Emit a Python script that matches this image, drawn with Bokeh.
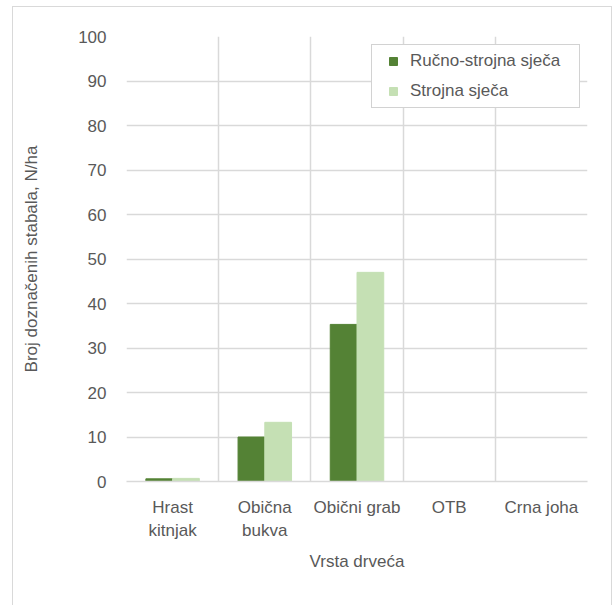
from bokeh.plotting import figure
from bokeh.models import (ColumnDataSource, Legend, LegendItem, FixedTicker, LinearAxis,
                          Range1d, InlineStyleSheet)
from bokeh.embed import file_html
from bokeh.resources import INLINE

categories = ["Hrast kitnjak", "Obična bukva", "Obični grab", "OTB", "Crna joha"]
tick_line1 = ["Hrast", "Obična", "Obični grab", "OTB", "Crna joha"]
tick_line2 = ["kitnjak", "bukva", "", "", ""]
rucno_strojna = [0.6, 10.0, 35.3, 0.0, 0.0]
strojna = [0.7, 13.3, 47.0, 0.0, 0.0]
series_names = ["Ručno-strojna sječa", "Strojna sječa"]
y_ticks = list(range(0, 101, 10))

FONT = "Liberation Sans"
FS = "17px"
TXT = "#595959"
GRID = "#d9d9d9"
C1 = "#548235"
C2 = "#C5E0B4"
BAR_W = 0.29

n = len(categories)
centers = [i + 0.5 for i in range(n)]
bounds = list(range(n + 1))

src = ColumnDataSource(dict(
    cat=categories,
    xa=[c - BAR_W / 2 for c in centers],
    xb=[c + BAR_W / 2 for c in centers],
    a=rucno_strojna, b=strojna))

p = figure(x_range=Range1d(0, n), y_range=Range1d(0, 100), width=600, height=600,
           output_backend="svg", toolbar_location=None,
           frame_width=461, frame_height=445,
           min_border_left=126, min_border_right=13, min_border_top=36, min_border_bottom=119)
p.background_fill_color = "white"
p.border_fill_color = "white"
p.outline_line_color = None
p.stylesheets = [InlineStyleSheet(css="""
:host { position: relative; overflow: visible; }
:host::after { content: ''; position: absolute; left: 12px; top: 6px; width: 600px; height: 599px;
  border-left: 1.5px solid #d9d9d9; border-top: 1.5px solid #d9d9d9; border-right: 1.5px solid #d9d9d9;
  box-sizing: border-box; pointer-events: none; }
""")]

r1 = p.vbar(x="xa", top="a", width=BAR_W, source=src, fill_color=C1, line_color=C1)
r2 = p.vbar(x="xb", top="b", width=BAR_W, source=src, fill_color=C2, line_color=C2)

# square legend keys (renderers hidden; only their legend glyphs are shown)
k1 = p.scatter(x="xa", y="a", marker="square", source=src, fill_color=C1, line_color=C1, visible=False)
k2 = p.scatter(x="xb", y="b", marker="square", source=src, fill_color=C2, line_color=C2, visible=False)

p.xgrid.ticker = FixedTicker(ticks=bounds)
p.xgrid.grid_line_color = GRID
p.xgrid.grid_line_width = 1.5
p.ygrid.ticker = FixedTicker(ticks=y_ticks)
p.ygrid.grid_line_color = GRID
p.ygrid.grid_line_width = 1.5

p.yaxis.ticker = FixedTicker(ticks=y_ticks)
p.yaxis.axis_line_color = None
p.yaxis.major_tick_line_color = None
p.yaxis.minor_tick_line_color = None
p.yaxis.major_tick_out = 0
p.yaxis.major_label_standoff = 20
p.yaxis.major_label_text_font = FONT
p.yaxis.major_label_text_font_size = FS
p.yaxis.major_label_text_color = TXT
p.yaxis.axis_label = "Broj doznačenih stabala, N/ha"
p.yaxis.axis_label_text_font = FONT
p.yaxis.axis_label_text_font_size = FS
p.yaxis.axis_label_text_font_style = "normal"
p.yaxis.axis_label_text_color = TXT
p.yaxis.axis_label_standoff = 34

xa = p.xaxis[0]
xa.ticker = FixedTicker(ticks=centers)
xa.axis_line_color = GRID
xa.axis_line_width = 1.5
xa.major_tick_line_color = None
xa.minor_tick_line_color = None
xa.major_tick_out = 0
xa.major_label_overrides = dict(zip(centers, tick_line1))
xa.major_label_standoff = 16
xa.major_label_text_font = FONT
xa.major_label_text_font_size = FS
xa.major_label_text_color = TXT

xa2 = LinearAxis(ticker=FixedTicker(ticks=centers))
xa2.axis_line_color = None
xa2.major_tick_line_color = None
xa2.minor_tick_line_color = None
xa2.major_tick_out = 0
xa2.major_label_overrides = dict(zip(centers, tick_line2))
xa2.major_label_standoff = 1
xa2.major_label_text_font = FONT
xa2.major_label_text_font_size = FS
xa2.major_label_text_color = TXT
xa2.axis_label = "Vrsta drveća"
xa2.axis_label_text_font = FONT
xa2.axis_label_text_font_size = FS
xa2.axis_label_text_font_style = "normal"
xa2.axis_label_text_color = TXT
xa2.axis_label_standoff = 9
p.add_layout(xa2, "below")

legend = Legend(items=[LegendItem(label=series_names[0], renderers=[k1]),
                       LegendItem(label=series_names[1], renderers=[k2])],
                location=(245, 373))
legend.label_text_font = FONT
legend.label_text_font_size = FS
legend.label_text_color = TXT
legend.glyph_width = 30
legend.glyph_height = 20
legend.label_height = 20
legend.label_width = 163
legend.label_standoff = 2
legend.spacing = 10
legend.padding = 6
legend.margin = 0
legend.inactive_fill_alpha = 0
legend.border_line_color = "#a6a6a6"
legend.border_line_width = 1
legend.background_fill_color = "white"
legend.background_fill_alpha = 1
p.add_layout(legend, "center")

open("out.html", "w").write(file_html(p, INLINE))
